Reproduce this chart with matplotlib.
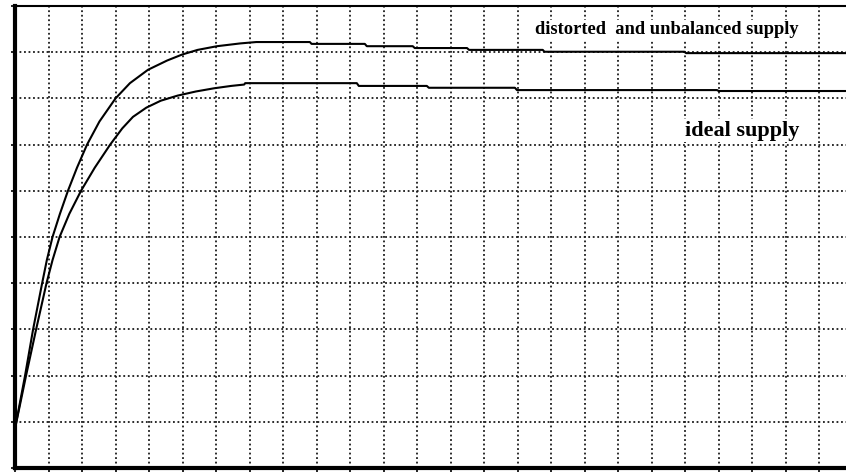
import matplotlib
matplotlib.use("Agg")
import matplotlib.pyplot as plt
import numpy as np

# values, in grid units (one grid cell = 1)
t_distorted = [0.0, 0.30, 0.54, 0.81, 0.95, 1.12, 1.34, 1.58, 1.85, 2.15, 2.52, 3.00,
               3.43, 3.97, 4.54, 4.99, 5.45, 6.03, 6.72, 7.20,
               8.80, 8.85, 10.44, 10.50, 11.87, 11.93, 13.49, 13.55, 15.75, 15.80,
               19.97, 20.03, 24.8]
v_distorted = [0.85, 2.00, 3.00, 4.00, 4.50, 5.00, 5.50, 6.00, 6.50, 7.00, 7.50, 8.00,
               8.33, 8.62, 8.82, 8.95, 9.05, 9.13, 9.19, 9.22,
               9.22, 9.18, 9.18, 9.13, 9.13, 9.09, 9.09, 9.05, 9.05, 9.01,
               9.01, 8.98, 8.98]

t_ideal = [0.0, 0.33, 0.63, 0.94, 1.12, 1.33, 1.62, 1.97, 2.38, 2.84, 3.20, 3.52,
           3.92, 4.35, 4.85, 5.40, 5.95, 6.45, 6.84, 6.87,
           10.20, 10.26, 12.29, 12.35, 14.92, 14.98, 20.95, 21.0, 24.8]
v_ideal = [0.85, 2.00, 3.00, 4.00, 4.50, 5.00, 5.50, 6.00, 6.50, 7.00, 7.35, 7.60,
           7.80, 7.95, 8.06, 8.15, 8.22, 8.27, 8.30, 8.33,
           8.33, 8.27, 8.27, 8.23, 8.23, 8.18, 8.18, 8.16, 8.16]

label_distorted = "distorted  and unbalanced supply"
label_ideal = "ideal supply"

fig = plt.figure(figsize=(8.46, 4.75), dpi=100)
ax = fig.add_axes([15 / 846, 7 / 475, 1 - 15 / 846, 462 / 475])

ax.plot(t_distorted, v_distorted, color="black", lw=1.5, zorder=3)
ax.plot(t_ideal, v_ideal, color="black", lw=1.5, zorder=3)

ax.set_xlim(0, 24.8)
ax.set_ylim(0, 10)
ax.set_xticks(np.arange(0, 25))
ax.set_yticks(np.arange(0, 11))
ax.set_xticklabels([])
ax.set_yticklabels([])
ax.tick_params(direction="out", length=3, width=1.2, color="black")
ax.grid(True, color="#1a1a1a", linestyle=(0, (1, 1.5)), linewidth=1.3)

ax.spines["left"].set_linewidth(3.0)
ax.spines["bottom"].set_linewidth(3.0)
ax.spines["top"].set_linewidth(1.5)
ax.spines["right"].set_visible(False)

ax.text(15.53, 9.39, label_distorted, fontsize=13.3, fontweight="bold",
        family="Liberation Serif", ha="left", va="baseline", zorder=4,
        bbox=dict(facecolor="white", edgecolor="none", pad=1))
ax.text(20.01, 7.19, label_ideal, fontsize=16, fontweight="bold",
        family="Liberation Serif", ha="left", va="baseline", zorder=4,
        bbox=dict(facecolor="white", edgecolor="none", pad=1))

fig.savefig("out.png", dpi=100)
